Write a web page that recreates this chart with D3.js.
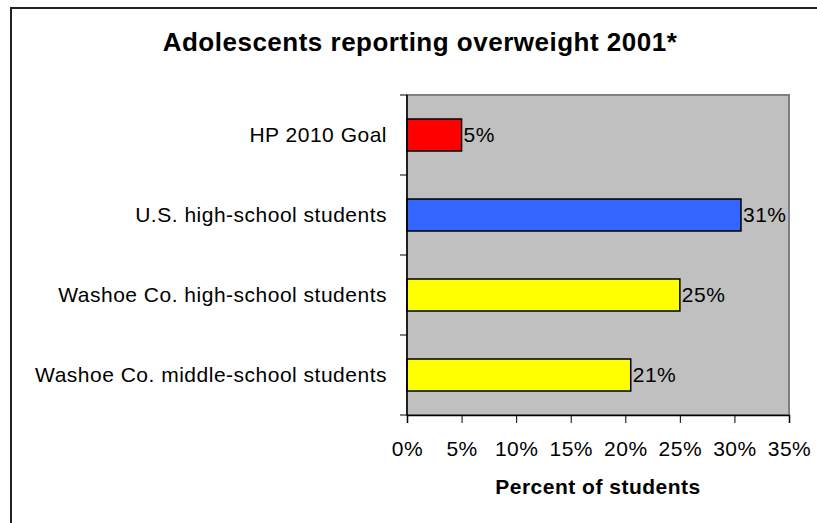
<!DOCTYPE html>
<html>
<head>
<meta charset="utf-8">
<script src="https://cdn.jsdelivr.net/npm/d3@7"></script>
<style>
  html, body { margin: 0; padding: 0; background: #ffffff; }
  svg { display: block; font-family: "Liberation Sans", Arial, sans-serif; }
</style>
</head>
<body>
<svg id="chart" width="817" height="523"></svg>
<script>
// Survey groups, top to bottom
const categories = [
  "HP 2010 Goal",
  "U.S. high-school students",
  "Washoe Co. high-school students",
  "Washoe Co. middle-school students"
];
// Percent of students reporting overweight
const values = [5, 30.6, 25, 20.5];
const barColors = ["#ff0000", "#3366ff", "#ffff00", "#ffff00"];
const xTicks = [0, 5, 10, 15, 20, 25, 30, 35];

const titleText = "Adolescents reporting overweight 2001*";
const xAxisTitle = "Percent of students";

const svg = d3.select("#chart");
const plot = { left: 407, right: 789, top: 95, bottom: 415 };
const labelSize = 21, labelSpacing = 0.5;

// Outer frame
svg.append("path")
  .attr("d", "M11,523 L11,8 L817,8")
  .attr("fill", "none")
  .attr("stroke", "#222")
  .attr("stroke-width", 2);

const x = d3.scaleLinear().domain([0, 35]).range([plot.left, plot.right]);
const y = d3.scaleBand().domain(categories)
  .range([plot.top, plot.bottom])
  .paddingInner(0.6).paddingOuter(0.3);

// Plot area
svg.append("rect")
  .attr("x", plot.left).attr("y", plot.top)
  .attr("width", plot.right - plot.left).attr("height", plot.bottom - plot.top)
  .attr("fill", "#c0c0c0")
  .attr("stroke", "#808080").attr("stroke-width", 2);

// Bars
svg.append("g").selectAll("rect")
  .data(values)
  .join("rect")
  .attr("x", x(0))
  .attr("y", (d, i) => y(categories[i]))
  .attr("width", d => x(d) - x(0))
  .attr("height", y.bandwidth())
  .attr("fill", (d, i) => barColors[i])
  .attr("stroke", "#000").attr("stroke-width", 1.5);

// Value labels
svg.append("g").selectAll("text")
  .data(values)
  .join("text")
  .attr("x", d => x(d) + 2)
  .attr("y", (d, i) => y(categories[i]) + y.bandwidth() / 2)
  .attr("dy", "0.35em")
  .attr("font-size", labelSize)
  .attr("letter-spacing", labelSpacing)
  .attr("fill", "#000")
  .text(d => Math.round(d) + "%");

// Category axis: ticks between bands
const yAxis = svg.append("g");
yAxis.append("line")
  .attr("x1", plot.left).attr("x2", plot.left)
  .attr("y1", plot.top).attr("y2", plot.bottom)
  .attr("stroke", "#000").attr("stroke-width", 1.5);
const boundaries = d3.range(categories.length + 1).map(i => plot.top + i * y.step());
yAxis.selectAll(".tk").data(boundaries).join("line")
  .attr("x1", plot.left - 7).attr("x2", plot.left)
  .attr("y1", d => d).attr("y2", d => d)
  .attr("stroke", "#000").attr("stroke-width", 1);
yAxis.selectAll("text").data(categories).join("text")
  .attr("x", plot.left - 20)
  .attr("y", d => y(d) + y.bandwidth() / 2)
  .attr("dy", "0.35em")
  .attr("text-anchor", "end")
  .attr("font-size", labelSize)
  .attr("letter-spacing", labelSpacing)
  .text(d => d);

// Value axis
const xAxis = svg.append("g")
  .attr("transform", `translate(0,${plot.bottom})`)
  .call(d3.axisBottom(x).tickValues(xTicks).tickFormat(d => d + "%").tickSize(8).tickPadding(18));
xAxis.select(".domain").attr("stroke", "#000").attr("stroke-width", 1.5);
xAxis.selectAll(".tick line").attr("stroke", "#000");
xAxis.selectAll(".tick text")
  .attr("font-size", labelSize)
  .attr("letter-spacing", labelSpacing)
  .attr("font-family", "Liberation Sans, Arial, sans-serif")
  .attr("fill", "#000");

// Titles
svg.append("text")
  .attr("x", 420).attr("y", 51)
  .attr("text-anchor", "middle")
  .attr("font-size", 26).attr("font-weight", "bold")
  .attr("letter-spacing", 0.5)
  .text(titleText);

svg.append("text")
  .attr("x", (plot.left + plot.right) / 2).attr("y", 494)
  .attr("text-anchor", "middle")
  .attr("font-size", labelSize).attr("font-weight", "bold")
  .attr("letter-spacing", labelSpacing)
  .text(xAxisTitle);
</script>
</body>
</html>
